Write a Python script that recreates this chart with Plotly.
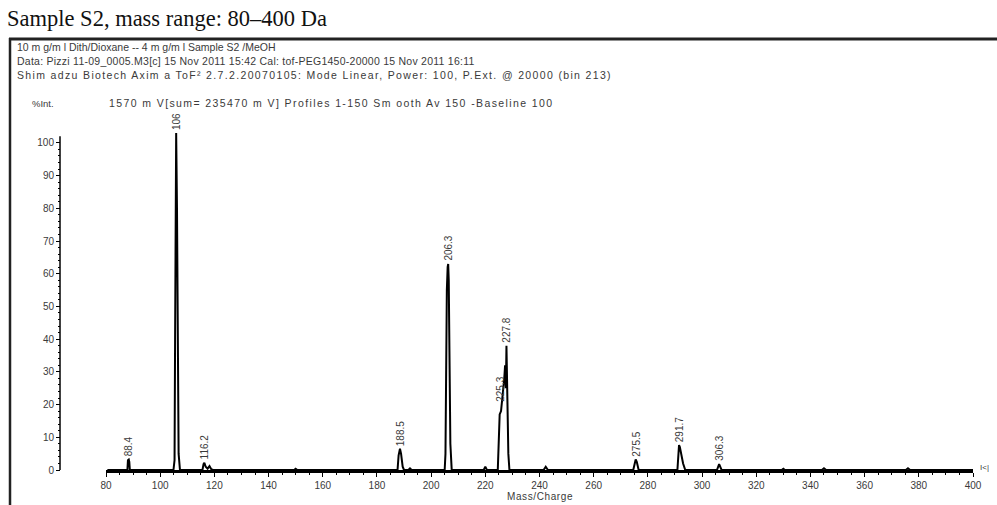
import plotly.graph_objects as go

# spectrum trace (m/z, % intensity)
mass = [80.5, 87.9, 88.1, 88.4, 88.6, 88.8,
        104.9, 105.3, 105.5, 105.7, 105.9, 106.2, 106.5, 106.8, 107.3,
        115.6, 116.0, 116.3, 116.8, 117.5, 118.2, 118.8, 119.5,
        149.4, 150.0, 150.6,
        187.6, 188.0, 188.5, 188.9, 189.5, 190.0, 191.6, 192.2, 192.8,
        205.0, 205.3, 205.5, 205.8, 206.1, 206.3, 206.5, 206.8, 207.1, 207.6,
        219.4, 220.0, 220.6,
        224.6, 224.9, 225.1, 225.3, 225.8, 226.2, 226.6, 227.0, 227.3, 227.6, 227.8, 228.0, 228.2, 228.5, 228.9,
        241.5, 242.3, 243.1,
        274.6, 275.2, 275.5, 275.9, 276.6,
        290.9, 291.2, 291.5, 291.8, 292.3, 293.0, 293.8,
        305.5, 306.3, 307.2,
        329.4, 330.0, 330.6,
        344.2, 345.0, 345.8,
        375.2, 376.0, 376.8,
        400.0]
intensity = [0.0, 0.0, 3.0, 3.2, 2.5, 0.0,
             0.0, 3.0, 40.0, 80.0, 103.0, 80.0, 30.0, 5.0, 0.0,
             0.0, 1.8, 2.2, 1.0, 0.4, 1.2, 0.3, 0.0,
             0.0, 0.4, 0.0,
             0.0, 4.5, 6.5, 5.0, 1.0, 0.0, 0.0, 0.5, 0.0,
             0.0, 5.0, 44.0, 55.0, 62.0, 63.0, 58.0, 30.0, 8.0, 0.0,
             0.0, 1.0, 0.0,
             0.0, 10.0, 11.0, 17.0, 18.0, 21.0, 25.0, 28.0, 32.0, 25.0, 38.0, 30.0, 20.0, 5.0, 0.0,
             0.0, 1.0, 0.0,
             0.0, 2.5, 3.2, 2.5, 0.0,
             0.0, 6.0, 7.6, 7.0, 5.0, 2.0, 0.0,
             0.0, 1.8, 0.0,
             0.0, 0.4, 0.0,
             0.0, 0.5, 0.0,
             0.0, 0.5, 0.0,
             0.0]

# labelled peaks
peak_mz = [88.4, 106, 116.2, 188.5, 206.3, 225.3, 227.8, 275.5, 291.7, 306.3]
peak_text = ["88.4", "106", "116.2", "188.5", "206.3", "225.3", "227.8", "275.5", "291.7", "306.3"]
peak_top = [3.2, 103.0, 2.2, 6.5, 63.0, 20.0, 38.0, 3.2, 7.6, 1.8]

header_lines = [
    "10 m g/m l Dith/Dioxane -- 4 m g/m l Sample S2 /MeOH",
    "Data: Pizzi 11-09_0005.M3[c] 15 Nov 2011 15:42 Cal: tof-PEG1450-20000 15 Nov 2011 16:11",
    "Shim adzu Biotech Axim a ToF\u00b2 2.7.2.20070105: Mode Linear, Power: 100, P.Ext. @ 20000 (bin 213)",
]
header_spacing = [0.0, 0.25, 1.35]
profile_line = "1570 m V[sum= 235470 m V] Profiles 1-150 Sm ooth Av 150 -Baseline 100"

W, H = 997, 505
L, R, T, B = 60, 24, 120, 35
PW, PH = W - L - R, H - T - B


def px(x):
    return (x - L) / PW


def py(y):
    return (H - B - y) / PH


def spaced(text, ls):
    return f'<span style="letter-spacing:{ls}px">{text}</span>'


grey = "#3a3a3a"
sans = "Liberation Sans, Arial, sans-serif"

fig = go.Figure()
fig.add_trace(go.Scatter(x=mass, y=intensity, mode="lines",
                         line=dict(color="black", width=2), hoverinfo="x+y"))

annotations = []
for mz, txt, top in zip(peak_mz, peak_text, peak_top):
    annotations.append(dict(x=mz, y=top, xref="x", yref="y", text=txt, showarrow=False,
                            textangle=-90, xanchor="center", yanchor="bottom", yshift=1,
                            font=dict(family=sans, size=10, color=grey)))

annotations.append(dict(x=px(5), y=py(18), xref="paper", yref="paper",
                        text="Sample S2, mass range: 80\u2013400 Da", showarrow=False,
                        xanchor="left", yanchor="middle",
                        font=dict(family="Liberation Serif, Times New Roman, serif", size=22.5, color="#111")))
for i, (line, ls) in enumerate(zip(header_lines, header_spacing)):
    annotations.append(dict(x=px(15), y=py(47 + 14 * i), xref="paper", yref="paper", text=spaced(line, ls),
                            showarrow=False, xanchor="left", yanchor="middle",
                            font=dict(family=sans, size=10.5, color=grey)))
annotations.append(dict(x=px(30), y=py(103), xref="paper", yref="paper", text="%Int.",
                        showarrow=False, xanchor="left", yanchor="middle",
                        font=dict(family=sans, size=9.5, color=grey)))
annotations.append(dict(x=px(107), y=py(103), xref="paper", yref="paper", text=spaced(profile_line, 1.4),
                        showarrow=False, xanchor="left", yanchor="middle",
                        font=dict(family=sans, size=10.5, color=grey)))
annotations.append(dict(x=px(540), y=py(496), xref="paper", yref="paper", text=spaced("Mass/Charge", 0.6),
                        showarrow=False, xanchor="center", yanchor="middle",
                        font=dict(family=sans, size=10, color=grey)))
annotations.append(dict(x=px(978), y=py(467), xref="paper", yref="paper", text="I<|",
                        showarrow=False, xanchor="left", yanchor="middle",
                        font=dict(family=sans, size=8, color=grey)))

shapes = [
    # page frame
    dict(type="line", xref="paper", yref="paper", x0=px(9), x1=px(W + 2), y0=py(39), y1=py(39),
         line=dict(color="#222", width=3)),
    dict(type="line", xref="paper", yref="paper", x0=px(10), x1=px(10), y0=py(38), y1=py(H + 2),
         line=dict(color="#222", width=2.5)),
    # intensity axis line, stops just above 100 %
    dict(type="line", xref="paper", yref="y", x0=0, x1=0, y0=0, y1=102,
         line=dict(color="black", width=1.5)),
]

fig.update_layout(
    width=W, height=H,
    margin=dict(l=L, r=R, t=T, b=B),
    paper_bgcolor="white", plot_bgcolor="white",
    showlegend=False,
    annotations=annotations,
    shapes=shapes,
    xaxis=dict(domain=[px(106), 1], range=[80, 400], showgrid=False, zeroline=False,
               showline=True, linecolor="black", linewidth=2.5,
               tickmode="linear", tick0=80, dtick=20, ticks="outside", ticklen=4,
               tickcolor="black", tickwidth=1,
               minor=dict(dtick=5, ticks="outside", ticklen=2, tickcolor="black"),
               tickfont=dict(family=sans, size=10, color=grey)),
    yaxis=dict(anchor="free", position=0, range=[0, 107], showgrid=False, zeroline=False,
               showline=False,
               tickmode="array", tickvals=[0, 10, 20, 30, 40, 50, 60, 70, 80, 90, 100],
               ticks="outside", ticklen=4, tickcolor="black", tickwidth=1,
               minor=dict(tickmode="array", tickvals=list(range(2, 102, 2)),
                          ticks="outside", ticklen=2, tickcolor="black"),
               tickfont=dict(family=sans, size=10, color=grey)),
)

# drop the browser's default body margin so the figure sits at the page corner
fig.write_html("out.html", config={"displayModeBar": False},
               post_script="document.body.style.margin='0';")
